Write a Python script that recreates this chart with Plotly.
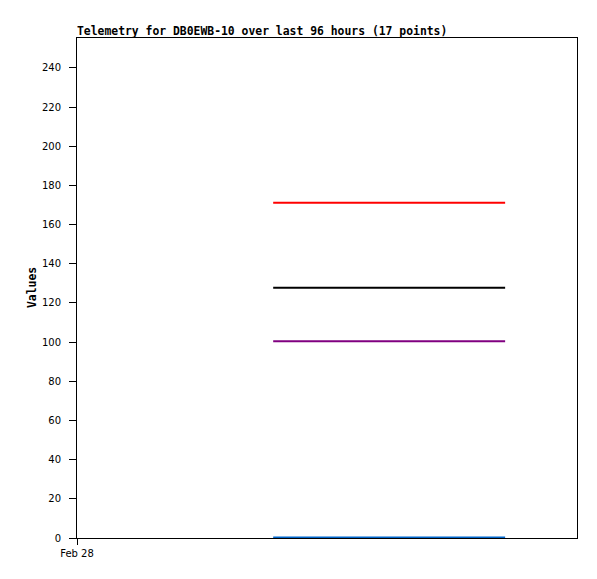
import plotly.graph_objects as go
import pandas as pd

# 17 telemetry points within the last 96 hours (Feb 28)
times = pd.date_range("2024-02-28 09:25", "2024-02-28 20:33", periods=17)
ch_red = [171.2] * 17
ch_black = [127.8] * 17
ch_purple = [100.4] * 17
ch_blue = [0.3] * 17

series = [
    ("Ch1", ch_red, "#ff0000"),
    ("Ch2", ch_black, "#000000"),
    ("Ch3", ch_purple, "#800080"),
    ("Ch4", ch_blue, "#0066cc"),
]

y_ticks = list(range(0, 241, 20))
x_tick_vals = ["2024-02-28 00:00"]
x_tick_text = ["Feb 28"]

fig = go.Figure()
for name, vals, col in series:
    fig.add_trace(go.Scatter(x=times, y=vals, mode="lines", name=name,
                             line=dict(color=col, width=2)))

fig.update_layout(
    width=589, height=571,
    margin=dict(l=69, r=20, t=30, b=41),
    paper_bgcolor="white", plot_bgcolor="white",
    showlegend=False,
    font=dict(family="DejaVu Sans", size=10, color="black"),
)
fig.update_xaxes(
    range=["2024-02-28 00:00", "2024-02-29 00:00"],
    tickvals=x_tick_vals, ticktext=x_tick_text,
    ticks="outside", ticklen=6, tickcolor="black",
    showline=True, linecolor="black", linewidth=1, mirror=True,
    showgrid=False, zeroline=False,
    tickfont=dict(family="DejaVu Sans", size=10),
)
fig.update_yaxes(
    range=[0, 255.3], tickvals=y_ticks,
    ticks="outside", ticklen=7, tickcolor="black",
    showline=True, linecolor="black", linewidth=1, mirror=True,
    showgrid=False, zeroline=False, ticklabelstandoff=6,
    tickfont=dict(family="DejaVu Sans", size=10),
)
fig.add_annotation(
    text="<b>Telemetry for DB0EWB-10 over last 96 hours (17 points)</b>",
    xref="paper", yref="paper", x=0, y=1, xanchor="left", yanchor="bottom",
    xshift=-2, yshift=-2, showarrow=False,
    font=dict(family="DejaVu Sans Mono", size=11.4, color="black"),
)
fig.add_annotation(
    text="<b>Values</b>",
    xref="paper", yref="paper", x=-0.09, y=0.5, xanchor="center", yanchor="middle",
    textangle=-90, showarrow=False,
    font=dict(family="DejaVu Sans Mono", size=11.4, color="black"),
)

fig.write_html("out.html")
